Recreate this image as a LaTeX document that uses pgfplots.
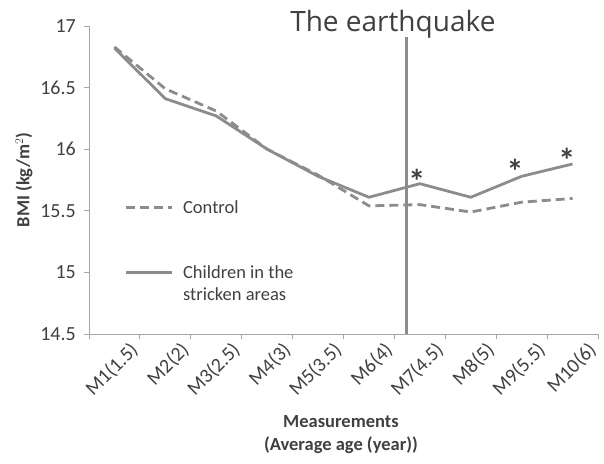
\documentclass[border=0pt]{standalone}
\usepackage{fontspec}
\setmainfont{Carlito}
\newfontfamily\titlefont{Open Sans}
\usepackage{pgfplots}
\pgfplotsset{compat=1.18}
\definecolor{txt}{HTML}{404040}
\definecolor{ln}{HTML}{8C8C8C}
\definecolor{ax}{HTML}{A6A6A6}
\begin{document}
\begin{tikzpicture}
\begin{axis}[
  scale only axis, width=509bp, height=308bp,
  xmin=-0.5, xmax=9.5, ymin=14.5, ymax=17,
  axis x line*=bottom, axis y line*=left,
  axis line style={-, draw=ax, line width=0.8bp},
  tick style={draw=ax, line width=0.8bp},
  tick align=outside, major tick length=5bp,
  xtick={-0.5,0.5,...,9.5},
  x tick label as interval,
  xticklabels={M1(1.5),M2(2),M3(2.5),M4(3),M5(3.5),M6(4),M7(4.5),M8(5),M9(5.5),M10(6)},
  xticklabel style={rotate=45, anchor=east, inner sep=0pt, xshift=9bp, yshift=-20bp},
  ytick={14.5,15,15.5,16,16.5,17},
  yticklabel style={anchor=east, inner sep=0pt, xshift=-8bp},
  /pgf/number format/assume math mode=true,
  ticklabel style={font=\fontsize{20bp}{22bp}\selectfont, text=txt},
  label style={font=\bfseries\fontsize{18.5bp}{23bp}\selectfont, text=txt},
  ylabel={BMI (kg/m$^{2}$)},
  ylabel style={at={(axis description cs:-0.128,0.5)}, anchor=center},
  xlabel={Measurements\\(Average age (year))},
  xlabel style={at={(axis description cs:0.495,-0.325)}, anchor=center, align=center},
  clip=false,
  legend style={draw=none, fill=none, at={(rel axis cs:0.069,0.435)}, anchor=north west,
    font=\fontsize{18.5bp}{22bp}\selectfont, text=txt, row sep=51bp, column sep=0bp,
    inner sep=0pt, nodes={inner sep=0pt}},
  legend cell align=left,
  legend image code/.code={\draw[#1] (0bp,0bp) -- (46bp,0bp);},
]
\coordinate (O) at (rel axis cs:0,0);
\addplot[ln, line width=2.8bp, dash pattern=on 9bp off 5bp] coordinates {
(0,16.83) (1,16.49) (2,16.31) (3,16.00) (4,15.79) (5,15.54) (6,15.55) (7,15.49) (8,15.57) (9,15.60)};
\addlegendentry{\hspace{10bp}Control}
\addplot[ln, line width=2.8bp] coordinates {
(0,16.82) (1,16.41) (2,16.27) (3,16.00) (4,15.78) (5,15.61) (6,15.72) (7,15.61) (8,15.78) (9,15.88)};
\addlegendentry{\hspace{10bp}Children in the}
\addplot[ln, line width=2.8bp, forget plot] coordinates {(5.73,14.5) (5.73,16.91)};
\node[anchor=base west, font=\fontsize{18.5bp}{22bp}\selectfont, text=txt, inner sep=0pt] at (axis cs:1.345,14.775) {stricken areas};
\node[anchor=base, font=\titlefont\fontsize{28bp}{32bp}\selectfont, text=txt, inner sep=0pt] at (axis cs:5.47,16.955) {The earthquake};
\node[anchor=base, font=\bfseries\fontsize{34bp}{36bp}\selectfont, text=black!75, inner sep=0pt, yshift=-18bp] at (axis cs:5.94,15.785) {*};
\node[anchor=base, font=\bfseries\fontsize{34bp}{36bp}\selectfont, text=black!75, inner sep=0pt, yshift=-18bp] at (axis cs:7.87,15.866) {*};
\node[anchor=base, font=\bfseries\fontsize{34bp}{36bp}\selectfont, text=black!75, inner sep=0pt, yshift=-18bp] at (axis cs:8.89,15.955) {*};
\end{axis}
\pgfresetboundingbox
\path (O) ++(-89bp,-130bp) rectangle ++(604bp,464bp);
\end{tikzpicture}
\end{document}
